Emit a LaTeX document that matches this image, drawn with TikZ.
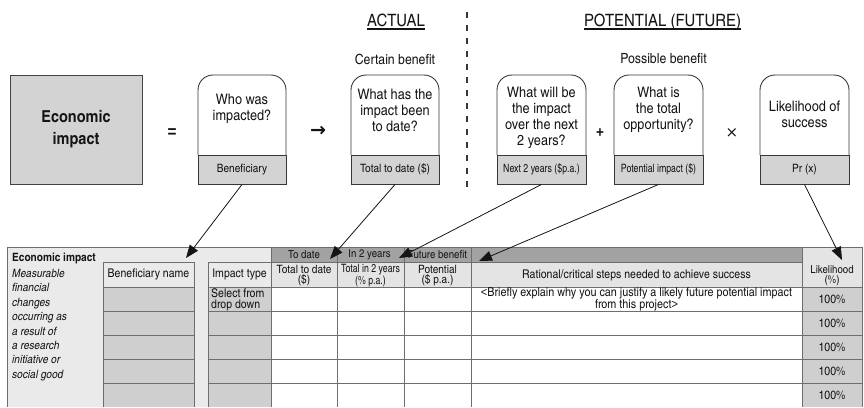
\documentclass[tikz,border=0pt]{standalone}
\usepackage{fontspec}
\setmainfont{Liberation Sans}
\newfontfamily\cond[FakeStretch=1.07,
  BoldFont=texgyreheroscn-bold.otf,
  ItalicFont=texgyreheroscn-italic.otf,
  BoldItalicFont=texgyreheroscn-bolditalic.otf]{texgyreheroscn-regular.otf}
\newfontfamily\condn[FakeStretch=0.93]{texgyreheroscn-regular.otf}
\newfontfamily\condb[FakeStretch=1.07,
  BoldFont=texgyreheroscn-bold.otf]{texgyreheroscn-regular.otf}
\newfontfamily\opfont[FakeStretch=0.9]{Liberation Sans}
\newfontfamily\symfont{DejaVu Sans}
\usetikzlibrary{arrows.meta}

\definecolor{ink}{HTML}{141414}
\definecolor{boxgray}{HTML}{D3D3D3}
\definecolor{panel}{HTML}{EAEAEA}
\definecolor{hdrdark}{HTML}{A2A2A2}
\definecolor{hdrlight}{HTML}{E4E4E4}
\definecolor{cellgray}{HTML}{CFCFCF}
\definecolor{gridline}{HTML}{6E6E6E}

\newcommand\fsz[2]{\fontsize{#1}{#2}\selectfont}
% plain angle brackets (the condensed face draws guillemet-like ones)
\newcommand\lt{{\opfont<}}
\newcommand\gt{{\opfont>}}

\begin{document}
\begin{tikzpicture}[x=1pt,y=-1pt,
  txt/.style={text=ink, inner sep=0pt, align=center},
  qtext/.style={txt, font=\cond\fsz{14.5}{16}},
  qframe/.style={draw=ink!85, line width=0.9pt, rounded corners=15pt},
  lbl/.style={draw=ink!85, line width=0.9pt, fill=boxgray, inner sep=0pt,
    minimum height=29pt, text=ink, font=\cond\fsz{11.5}{13}},
  op/.style={txt},
  head/.style={txt, font=\cond\fsz{17}{20}},
  sub/.style={txt, font=\cond\fsz{14}{16}},
  grid/.style={draw=gridline, line width=0.7pt},
  cell/.style={txt, font=\cond\fsz{11.5}{10}},
  conn/.style={draw=ink, line width=0.8pt, -{Triangle[length=13pt,width=10pt]}}
]
\useasboundingbox (0,0) rectangle (864,407);

% ---------- section headings ----------
\coordinate (ul) at (0,29);
\node[head, anchor=base] (actual) at (396,26) {ACTUAL};
\node[head, anchor=base] (potential) at (662.5,26) {POTENTIAL (FUTURE)};
\draw[ink, line width=1.3pt] (actual.west |- ul) -- (actual.east |- ul);
\draw[ink, line width=1.3pt] (potential.west |- ul) -- (potential.east |- ul);
\node[sub] (certain) at (395,59) {Certain benefit};
\node[sub] (possible) at (663.5,59) {Possible benefit};

% divider between actual and potential
\draw[ink!85, line width=1.5pt, dash pattern=on 6pt off 7pt] (467,12) -- (467,192);

% ---------- equation row ----------
\node[draw=ink!80, line width=0.9pt, fill=boxgray, minimum width=132pt,
  minimum height=109pt, inner sep=0pt, text=ink, align=center,
  font=\condb\bfseries\fsz{16.5}{22}] (econ) at (76,129.5) {Economic\\impact};

\node[op, font=\opfont\bfseries\fsz{17}{20}] (eq) at (172,133) {=};
\node[op, font=\symfont\bfseries\fsz{19}{20}] (then) at (318,131.5) {→};
\node[op, font=\opfont\bfseries\fsz{15}{18}] (plus) at (600,133) {+};
\node[op, font=\symfont\fsz{15}{18}] (times) at (732,133) {×};

% question boxes: rounded top frame + grey label strip
\draw[qframe] (198,155) -- (198,75) -- (286,75) -- (286,155);
\draw[qframe] (351,155) -- (351,75) -- (439,75) -- (439,155);
\draw[qframe] (497,155) -- (497,75) -- (586,75) -- (586,155);
\draw[qframe] (614,155) -- (614,75) -- (703,75) -- (703,155);
\draw[qframe] (760,155) -- (760,75) -- (849,75) -- (849,155);

\node[qtext] (q1) at (242,109) {Who was\\impacted?};
\node[qtext] (q2) at (395,110.5) {What has the\\impact been\\to date?};
\node[qtext] (q3) at (541.5,118) {What will be\\the impact\\over the next\\2 years?};
\node[qtext] (q4) at (658.5,110) {What is\\the total\\opportunity?};
\node[qtext] (q5) at (804.5,114.5) {Likelihood of\\success};

\node[lbl, minimum width=88pt] (l1) at (242,169.5) {Beneficiary};
\node[lbl, minimum width=88pt] (l2) at (395,169.5) {Total to date (\$)};
\node[lbl, minimum width=89pt, font=\condn\fsz{11.5}{13}] (l3) at (541.5,169.5) {Next 2 years (\$p.a.)};
\node[lbl, minimum width=89pt, font=\condn\fsz{11.5}{13}] (l4) at (658.5,169.5) {Potential impact (\$)};
\node[lbl, minimum width=89pt] (l5) at (804.5,169.5) {Pr (x)};

% ---------- worksheet table ----------
\fill[panel] (7,247) rectangle (271,407);
\fill[panel] (103,262) rectangle (194,287);
\fill[panel] (208,262) rectangle (271,287);
\fill[cellgray] (103,287) rectangle (194,407);
\fill[cellgray] (208,287) rectangle (271,407);
\fill[hdrdark] (271,247) rectangle (802,262);
\fill[hdrlight] (271,262) rectangle (802,287);
\fill[hdrlight] (802,247) rectangle (862,287);
\fill[cellgray] (802,287) rectangle (862,407);

% grid
\draw[grid] (7,407) -- (7,247) -- (862,247) -- (862,407);
\draw[grid] (103,407) -- (103,262) -- (194,262) -- (194,407);
\draw[grid] (208,407) -- (208,262) -- (271,262);
\foreach \xx in {271,337,404,471,802} \draw[grid] (\xx,247) -- (\xx,407);
\draw[grid] (271,262) -- (802,262);
\foreach \yy in {287,311,335,359,383} {
  \draw[grid] (103,\yy) -- (194,\yy);
  \draw[grid] (208,\yy) -- (862,\yy);
}

% left description
\node[txt, anchor=west, font=\condb\bfseries\fsz{11.5}{13}] (tEcon) at (12,258) {Economic impact};
\node[txt, anchor=north west, align=left, font=\cond\itshape\fsz{11.5}{13.4}] (tDesc) at (12,269)
  {Measurable\\[1pt]financial\\[1pt]changes\\[1pt]occurring as\\[1pt]a result of\\[1pt]a research\\[1pt]initiative or\\[1pt]social good};

% column headings
\node[cell, font=\cond\fsz{12}{13}] (hBen) at (148.5,274.5) {Beneficiary name};
\node[cell, font=\cond\fsz{12}{13}] (hType) at (239.5,274.5) {Impact type};
\node[cell, anchor=north west, align=left, font=\cond\fsz{12}{10.5}] (tSel) at (211,288.5) {Select from\\drop down};

\node[cell, font=\cond\fsz{11}{12}] (gDate) at (304,254.5) {To date};
\node[cell, font=\cond\fsz{11}{12}] (g2y) at (369.5,254.5) {In 2 years};
\node[cell, font=\cond\fsz{11}{12}] (gFut) at (437.5,254.5) {Future benefit};

\node[cell, font=\cond\fsz{11.5}{10}] (hDate) at (304,275.5) {Total to date\\(\$)};
\node[cell, font=\condn\fsz{11.5}{10}] (h2y) at (370.5,275.5) {Total in 2 years\\(\% p.a.)};
\node[cell, font=\cond\fsz{11.5}{10}] (hPot) at (437.5,275.5) {Potential\\(\$ p.a.)};
\node[cell, font=\cond\fsz{12}{13}] (hRat) at (636.5,275) {Rational/critical steps needed to achieve success};
\node[cell, font=\cond\fsz{11}{10}] (hLik) at (832,276) {Likelihood\\(\%)};

\node[cell, font=\cond\fsz{12.3}{11}] (tRat) at (636.5,299.5)
  {\lt Briefly explain why you can justify a likely future potential impact\\from this project\gt};

\foreach \yy/\nm in {299/p1,323/p2,347/p3,371/p4,395/p5}
  \node[cell, font=\cond\fsz{12}{13}] (\nm) at (832,\yy) {100\%};

% connectors from labels to the table
\coordinate (t1) at (186,258);
\coordinate (t2) at (330,259);
\coordinate (t3) at (399,258);
\coordinate (t4) at (479,261);
\coordinate (t5) at (842,260);
\draw[conn] (l1.south) -- (t1);
\draw[conn] (l2.south) -- (t2);
\draw[conn] (l3.south) -- (t3);
\draw[conn] (l4.south) -- (t4);
\draw[conn] (l5.south) -- (t5);
\end{tikzpicture}
\end{document}
